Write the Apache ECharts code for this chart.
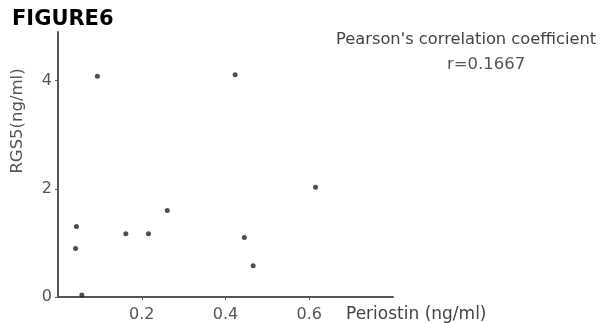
<!DOCTYPE html>
<html>
<head>
<meta charset="utf-8">
<script src="https://cdn.jsdelivr.net/npm/echarts@6/dist/echarts.min.js"></script>
<style>html,body{margin:0;padding:0;background:#fff}#c{width:600px;height:323px}</style>
</head>
<body>
<div id="c"></div>
<script>
var periostin = [0.094, 0.423, 0.615, 0.044, 0.042, 0.057, 0.162, 0.216, 0.261, 0.445, 0.466];
var rgs5      = [4.08, 4.11, 2.03, 1.305, 0.895, 0.037, 1.17, 1.17, 1.60, 1.10, 0.577];
var xTicks = [0.2, 0.4, 0.6];
var yTicks = [0, 2, 4];
var titleText = 'FIGURE6';
var xName = 'Periostin (ng/ml)';
var yName = 'RGS5(ng/ml)';
var note1 = "Pearson's correlation coefficient";
var note2 = 'r=0.1667';

var pts = periostin.map(function (v, i) { return [v, rgs5[i]]; });
var font = 'DejaVu Sans';
var chart = echarts.init(document.getElementById('c'));
chart.setOption({
  animation: false,
  title: { text: titleText, left: 7, top: 4, textStyle: { fontFamily: font, fontWeight: 'bold', fontSize: 21, color: '#000' } },
  grid: { left: 58, right: 207, top: 32, bottom: 25, containLabel: false },
  xAxis: {
    type: 'value', min: 0, max: 0.8, interval: 0.2,
    axisLine: { show: true, lineStyle: { color: '#555', width: 2 } },
    axisTick: { show: true, length: 3, lineStyle: { color: '#555' } },
    splitLine: { show: false },
    axisLabel: { fontFamily: font, fontSize: 16, color: '#555', margin: 10,
      showMinLabel: false, showMaxLabel: false,
      formatter: function (v) { return xTicks.indexOf(Math.round(v * 10) / 10) >= 0 ? v.toFixed(1) : ''; } }
  },
  yAxis: {
    type: 'value', min: 0, max: 4.9, interval: 2,
    axisLine: { show: true, lineStyle: { color: '#555', width: 2 } },
    axisTick: { show: true, length: 3, lineStyle: { color: '#555' } },
    splitLine: { show: false },
    axisLabel: { fontFamily: font, fontSize: 16, color: '#555', margin: 6, showMaxLabel: false,
      formatter: function (v) { return yTicks.indexOf(v) >= 0 ? String(v) : ''; } }
  },
  graphic: [
    { type: 'text', left: 346, top: 306, style: { text: xName, font: '17px "DejaVu Sans"', fill: '#444' } },
    { type: 'text', x: 18, y: 121, rotation: Math.PI / 2, style: { text: yName, font: '16.5px "DejaVu Sans"', fill: '#555', align: 'center', verticalAlign: 'middle' } },
    { type: 'text', left: 336, top: 32, style: { text: note1, font: '16.3px "DejaVu Sans"', fill: '#444' } },
    { type: 'text', left: 447, top: 56, style: { text: note2, font: '16.5px "DejaVu Sans"', fill: '#555' } }
  ],
  series: [{
    type: 'scatter', data: pts, symbolSize: 5,
    itemStyle: { color: '#222' }
  }]
});
</script>
</body>
</html>
